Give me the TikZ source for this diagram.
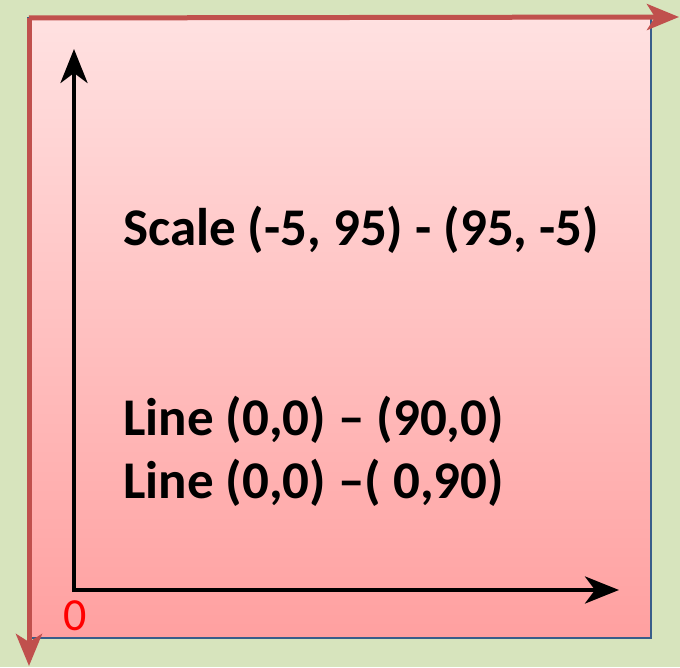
\documentclass[tikz,border=0pt]{standalone}
\usepackage{fontspec}
\setmainfont{Carlito}
\usetikzlibrary{arrows.meta,shadows}
\definecolor{bggreen}{RGB}{215,228,189}
\definecolor{pinktop}{RGB}{255,225,225}
\definecolor{pinkbot}{RGB}{255,160,160}
\definecolor{edgeblue}{RGB}{56,93,138}
\definecolor{redarrow}{RGB}{192,80,77}
\definecolor{zeroRed}{RGB}{255,0,0}
\tikzset{
  blackaxis/.style={line width=4pt,black,-{Stealth[length=34pt,width=27pt,inset=10pt]}},
  redaxis/.style={line width=5pt,redarrow,-{Stealth[length=32pt,width=26pt,inset=8pt]}},
  lbl/.style={font=\bfseries\fontsize{53}{58}\selectfont,anchor=west,inner sep=0pt},
}
\begin{document}
\begin{tikzpicture}[x=1pt,y=1pt]
\useasboundingbox (0,0) rectangle (680,667);
\fill[bggreen] (0,0) rectangle (680,667);
% pink box
\shade[top color=pinktop,bottom color=pinkbot,draw=edgeblue,line width=1.5pt] (28,29) rectangle (651,649);
% red axes
\coordinate (ro) at (29,649);
\coordinate (rx) at (679,650);
\coordinate (ry) at (29,1);
\draw[redaxis] (ro) -- (rx);
\draw[redaxis] (ro) -- (ry);
% black axes
\coordinate (o) at (74,77);
\coordinate (xe) at (619,77);
\coordinate (ye) at (74,618);
\draw[blackaxis] ([xshift=-2pt]o) -- (xe);
\draw[blackaxis] ([yshift=-2pt]o) -- (ye);
% texts
\node[lbl] (scale) at (123,437) {Scale (-5, 95) - (95, -5)};
\node[lbl] (l1) at (123,247) {Line (0,0) – (90,0)};
\node[lbl] (l2) at (123,184) {Line (0,0) –( 0,90)};
\node[text=zeroRed,font=\fontsize{46}{50}\selectfont,inner sep=0pt] (zero) at (75,51) {0};
\end{tikzpicture}
\end{document}
